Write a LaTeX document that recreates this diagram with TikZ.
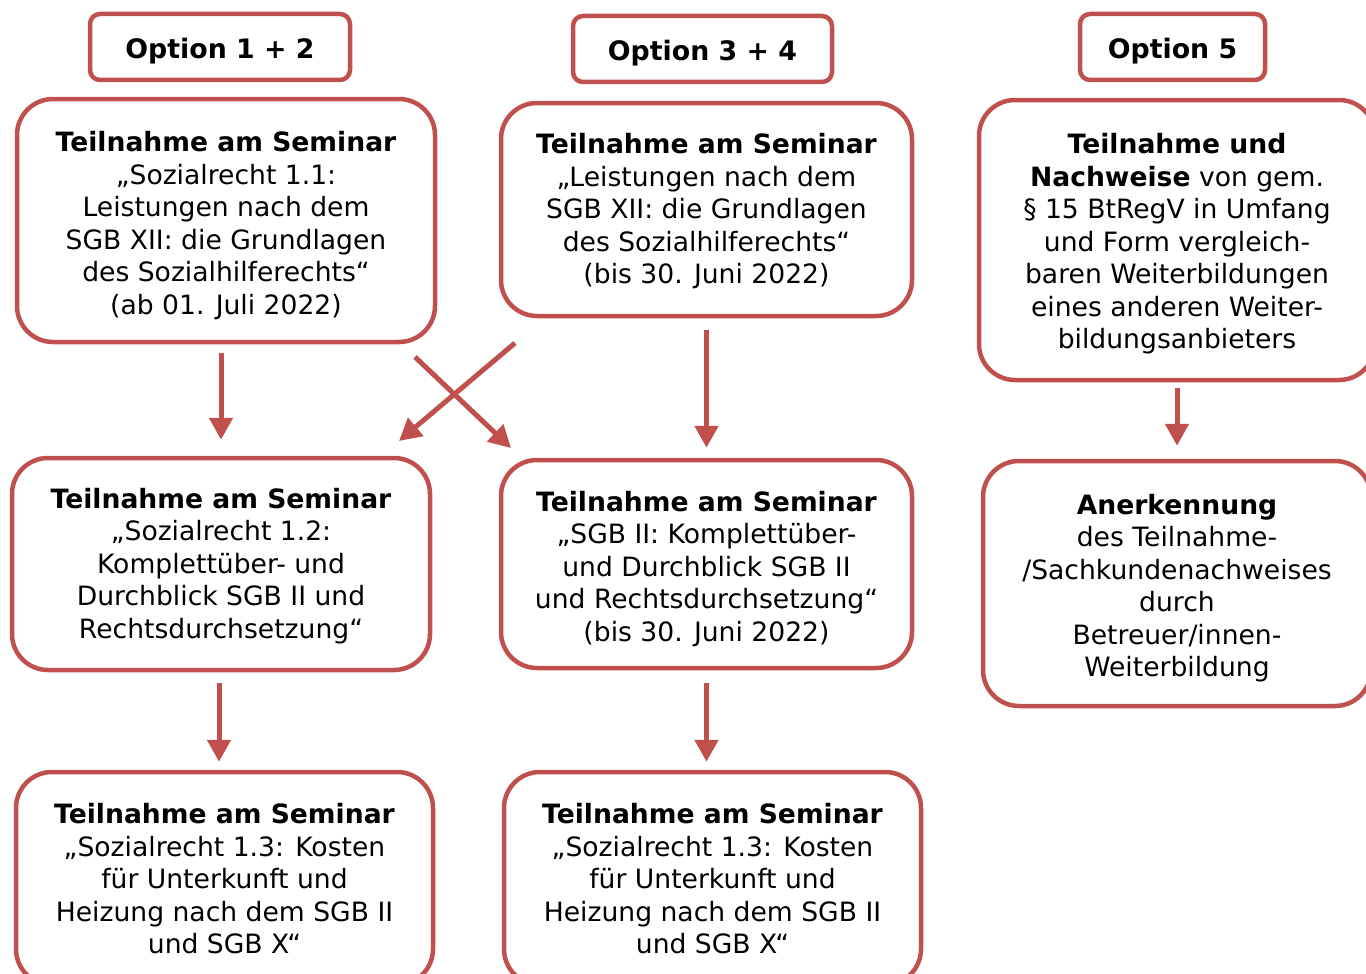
\documentclass[tikz,border=0pt]{standalone}
\usepackage{fontspec}
\setmainfont{DejaVu Sans}
\usetikzlibrary{arrows.meta}
\definecolor{boxred}{HTML}{C0504D}
\newcommand\toppad[1]{\rule{0pt}{#1}}
\tikzset{
  txt/.style={font=\fontsize{26.6}{32.5}\selectfont, align=center},
  bigbox/.style={txt, draw=boxred, line width=4.5pt, rounded corners=36pt, inner sep=0pt, fill=white},
  optbox/.style={txt, font=\fontsize{26.8}{32.5}\selectfont\bfseries, draw=boxred, line width=4.5pt, rounded corners=10pt, inner sep=0pt, fill=white},
  arr/.style={draw=boxred, line width=5pt, -{Triangle[width=23pt,length=22pt]}}
}
\begin{document}
\begin{tikzpicture}[x=1pt,y=-1pt]
\useasboundingbox (0,0) rectangle (1366,974);
\clip (0,0) rectangle (1366,974);
% option headers
\node[optbox, minimum width=260pt, minimum height=66pt] (o1) at (220,47) {\toppad{28pt}Option 1 + 2};
\node[optbox, minimum width=259pt, minimum height=66pt] (o2) at (702.5,49) {\toppad{28pt}Option 3 + 4};
\node[optbox, minimum width=185pt, minimum height=66pt] (o3) at (1172.5,47) {\toppad{28pt}Option 5};
% top row
\node[bigbox, minimum width=418pt, minimum height=243pt] (A) at (226,220.5) {\toppad{30pt}\textbf{Teilnahme am Seminar}\\„Sozialrecht 1.1:\\Leistungen nach dem\\SGB XII: die Grundlagen\\des Sozialhilferechts“\\(ab 01. Juli 2022)};
\node[bigbox, minimum width=411pt, minimum height=213pt] (B) at (706.5,209.5) {\toppad{24pt}\textbf{Teilnahme am Seminar}\\„Leistungen nach dem\\SGB XII: die Grundlagen\\des Sozialhilferechts“\\(bis 30. Juni 2022)};
\node[bigbox, minimum width=396pt, minimum height=280pt] (C) at (1177,240) {\toppad{28pt}\textbf{Teilnahme und}\\\textbf{Nachweise} von gem.\\§ 15 BtRegV in Umfang\\und Form vergleich-\\baren Weiterbildungen\\eines anderen Weiter-\\bildungsanbieters};
% middle row
\node[bigbox, minimum width=418pt, minimum height=212pt] (D) at (221,564) {\toppad{24pt}\textbf{Teilnahme am Seminar}\\„Sozialrecht 1.2:\\Komplettüber- und\\Durchblick SGB II und\\Rechtsdurchsetzung“};
\node[bigbox, minimum width=411pt, minimum height=208pt] (E) at (706.5,564) {\toppad{30pt}\textbf{Teilnahme am Seminar}\\„SGB II: Komplettüber-\\und Durchblick SGB II\\und Rechtsdurchsetzung“\\(bis 30. Juni 2022)};
\node[bigbox, minimum width=388pt, minimum height=245pt] (F) at (1177,583.5) {\toppad{30pt}\textbf{Anerkennung}\\des Teilnahme-\\/Sachkundenachweises\\durch\\Betreuer/innen-\\Weiterbildung};
% bottom row
\node[bigbox, minimum width=417pt, minimum height=213pt] (G) at (224.5,878.5) {\toppad{21pt}\textbf{Teilnahme am Seminar}\\„Sozialrecht 1.3: Kosten\\für Unterkunft und\\Heizung nach dem SGB II\\und SGB X“};
\node[bigbox, minimum width=417pt, minimum height=213pt] (H) at (712.5,878.5) {\toppad{21pt}\textbf{Teilnahme am Seminar}\\„Sozialrecht 1.3: Kosten\\für Unterkunft und\\Heizung nach dem SGB II\\und SGB X“};
% vertical arrows
\draw[arr, shorten <=9pt, shorten >=16pt] (A.south -| D.north) -- (D.north);
\draw[arr, shorten <=12pt, shorten >=10pt] (B.south -| E.north) -- (E.north);
\draw[arr, shorten <=6pt, shorten >=13pt] (C.south) -- (F.north);
\draw[arr, shorten <=11pt, shorten >=8pt] ([xshift=-2pt]D.south) -- ([xshift=-2pt]D.south |- G.north);
\draw[arr, shorten <=13pt, shorten >=8pt] (E.south) -- (E.south |- H.north);
% crossing arrows
\coordinate (xbs) at (515,343);
\coordinate (xde) at (399,441);
\coordinate (xas) at (415,357);
\coordinate (xee) at (511,448);
\draw[arr] (xbs) -- (xde);
\draw[arr] (xas) -- (xee);
\end{tikzpicture}
\end{document}
